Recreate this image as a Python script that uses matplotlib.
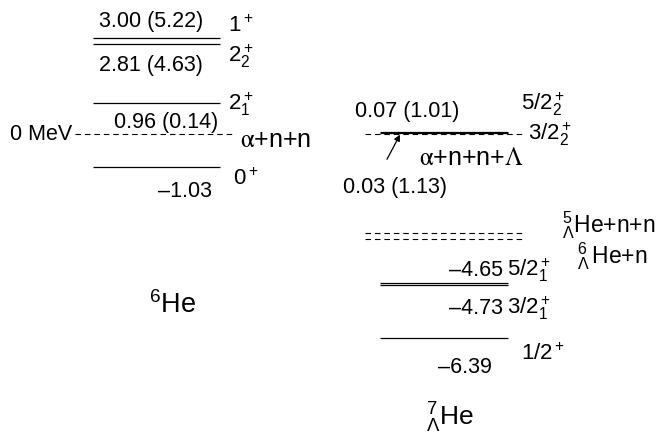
import matplotlib
matplotlib.use('Agg')
import matplotlib.pyplot as plt

plt.rcParams['font.family'] = ['Liberation Sans', 'DejaVu Sans']
plt.rcParams['mathtext.fontset'] = 'custom'
plt.rcParams['mathtext.rm'] = 'Liberation Sans'
plt.rcParams['mathtext.it'] = 'Liberation Sans:italic'
plt.rcParams['mathtext.bf'] = 'Liberation Sans:bold'
plt.rcParams['mathtext.sf'] = 'Liberation Sans'
plt.rcParams['lines.scale_dashes'] = False

# ---- data ----
he6_E = [3.00, 2.81, 0.96, -1.03]
he6_val = ['3.00 (5.22)', '2.81 (4.63)', '0.96 (0.14)', '\u20131.03']
he6_jpi = [r'$1^+$', r'$2^+_2$', r'$2^+_1$', r'$0^+$']
he6_thr = [0.0]

he7_E = [0.07, 0.03, -4.65, -4.73, -6.39]
he7_val = ['0.07 (1.01)', '0.03 (1.13)', '\u20134.65', '\u20134.73', '\u20136.39']
he7_jpi = [r'$5/2^+_2$', r'$3/2^+_2$', r'$5/2^+_1$', r'$3/2^+_1$', r'$1/2^+$']
he7_thr = [0.0, -3.09, -3.28]

fig = plt.figure(figsize=(6.59, 4.34), dpi=100)
ax = fig.add_axes([0, 0, 1, 1])
ax.set_xlim(0, 659)
ax.set_ylim(-9.375, 4.1875)
ax.axis('off')

lw = 0.9
dash = (0, (4.0, 2.8))
# 6He levels
ax.hlines(he6_E, 93, 220, color='black', lw=lw)
ax.hlines(he6_thr, 75, 232, color='black', lw=0.8, linestyles=[dash])
# 7LHe levels
ax.hlines(he7_thr, 365, 523, color='black', lw=0.8, linestyles=[dash])
ax.hlines(he7_E, 380, 508, color='black', lw=lw)

fs = 15.5
fj = 16
fb = 18
# 6He value labels
ax.text(151, he6_E[0] + 0.35, he6_val[0], ha='center', va='baseline', fontsize=fs)
ax.text(151, he6_E[1] - 0.83, he6_val[1], ha='center', va='baseline', fontsize=fs)
ax.text(166, he6_E[2] - 0.78, he6_val[2], ha='center', va='baseline', fontsize=fs)
ax.text(212, he6_E[3] - 0.93, he6_val[3], ha='right', va='baseline', fontsize=fs)
# 6He J^pi
ax.text(228, he6_E[0] + 0.20, he6_jpi[0], ha='left', va='baseline', fontsize=fj)
ax.text(228, he6_E[1] - 0.55, he6_jpi[1], ha='left', va='baseline', fontsize=fj)
ax.text(228, he6_E[2] - 0.21, he6_jpi[2], ha='left', va='baseline', fontsize=fj)
ax.text(233, he6_E[3] - 0.56, he6_jpi[3], ha='left', va='baseline', fontsize=fj)

ax.text(72, he6_thr[0], '0 MeV', ha='right', va='center', fontsize=15.5)
ax.text(240, he6_thr[0] - 0.41, r'$\mathrm{\alpha}$+n+n', ha='left', va='baseline',
        fontsize=fb, math_fontfamily='stix')
ax.text(149, -5.59, r'$^{6}$He', ha='left', va='baseline', fontsize=19.5)

# 7LHe labels
ax.text(355, he7_E[0] + 0.46, he7_val[0], ha='left', va='baseline', fontsize=fs)
ax.text(521, he7_E[0] + 0.68, he7_jpi[0], ha='left', va='baseline', fontsize=fj)
ax.text(528, he7_E[1] - 0.22, he7_jpi[1], ha='left', va='baseline', fontsize=fj)
ax.text(419, he7_thr[0] - 0.97, r'$\mathrm{\alpha}$+n+n+$\Lambda$', ha='left', va='baseline',
        fontsize=fb, math_fontfamily='stix')
ax.text(343, he7_E[1] - 1.87, he7_val[1], ha='left', va='baseline', fontsize=fs)
ax.annotate('', xy=(400, he7_E[1] - 0.05), xytext=(387, he7_E[1] - 0.82),
            arrowprops=dict(arrowstyle='-|>', color='black', lw=0.9,
                            mutation_scale=9, shrinkA=0, shrinkB=0))

ax.text(562, he7_thr[1] + 0.03, r'${}^{5}_{\Lambda}$He+n+n', ha='left', va='baseline', fontsize=16.5)
ax.text(577, he7_thr[2] - 0.75, r'${}^{6}_{\Lambda}\,$He+n', ha='left', va='baseline', fontsize=16.5)

ax.text(503, he7_E[2] + 0.21, he7_val[2], ha='right', va='baseline', fontsize=fs)
ax.text(507, he7_E[2] + 0.21, he7_jpi[2], ha='left', va='baseline', fontsize=fj)
ax.text(503, he7_E[3] - 0.89, he7_val[3], ha='right', va='baseline', fontsize=fs)
ax.text(507, he7_E[3] - 0.89, he7_jpi[3], ha='left', va='baseline', fontsize=fj)
ax.text(521, he7_E[4] - 0.67, he7_jpi[4], ha='left', va='baseline', fontsize=fj)
ax.text(492, he7_E[4] - 1.08, he7_val[4], ha='right', va='baseline', fontsize=fs)

ax.text(426, -9.1, r'${}_{\Lambda}^{7}$He', ha='left', va='baseline', fontsize=19)

fig.savefig('out.png', dpi=100)
